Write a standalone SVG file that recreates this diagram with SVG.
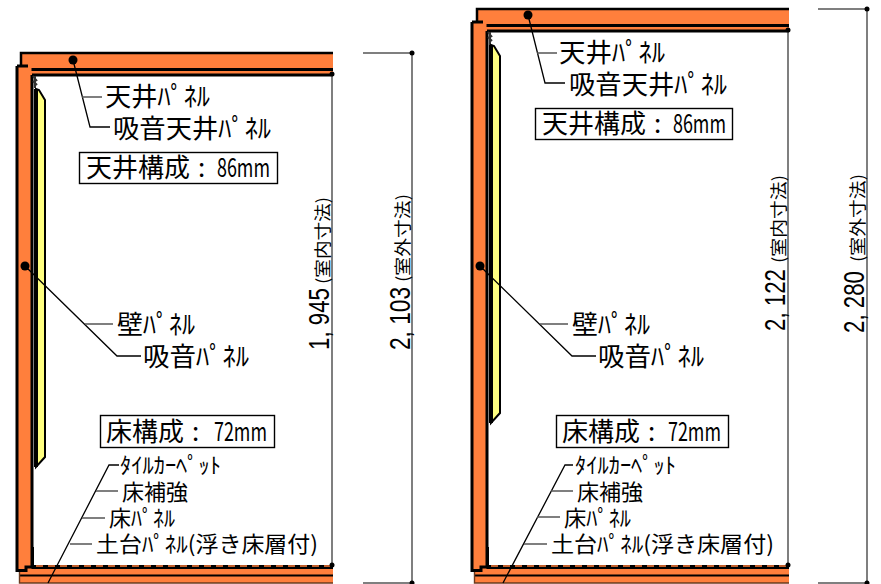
<svg xmlns="http://www.w3.org/2000/svg" width="881" height="584" viewBox="0 0 881 584">
<style>
text{font-family:"Noto Sans CJK JP","Liberation Sans",sans-serif;fill:#000}
.l{font-size:26px}
.s{font-size:22px}
.d{font-size:30px;font-family:"Liberation Sans","Noto Sans CJK JP",sans-serif}
.p{font-size:17px}
.o{fill:#ff7f3c}
.b{fill:none;stroke:#000;stroke-width:2.5}
.t{fill:none;stroke:#000;stroke-width:1.3}
.g{fill:none;stroke:#555;stroke-width:1.5}
.dash{fill:none;stroke:#ff7f3c;stroke-width:1.5;stroke-dasharray:7 5}
.box{fill:#fff;stroke:#000;stroke-width:1.4}
</style>
<rect width="881" height="584" fill="#fff"/>
<g id="unit-left">
<rect class="o" x="21" y="53" width="312" height="22"/>
<path class="b" d="M333 53H21V67"/>
<path d="M21 69.5H333M32 75H333" fill="none" stroke="#000" stroke-width="3"/>
<rect class="o" x="19" y="567" width="314" height="16"/>
<path d="M32 566H333" fill="none" stroke="#000" stroke-width="2"/>
<path class="dash" d="M36 566H333"/>
<path d="M26 568H333M20 575.500H333" fill="none" stroke="#000" stroke-width="2"/>
<path d="M19.500 571V583H333" fill="none" stroke="#6b3a1e" stroke-width="1.400"/>
<rect class="o" x="17" y="66" width="14.500" height="504"/>
<path d="M32 76V78M17 66H28M17 66V570.500H26V567H32V75" fill="none" stroke="#000" stroke-width="3"/>
<path d="M33 547V565" fill="none" stroke="#000" stroke-width="2"/>
<path d="M33 76L37 81M33 81L37 85M35 76V88" fill="none" stroke="#333" stroke-width="2"/>
<path d="M36 89V467L45 457V100L39 90Z" fill="#ffff80" stroke="#000" stroke-width="2"/>
<path d="M36 89V467" fill="none" stroke="#000" stroke-width="4"/>
</g>
<g id="unit-right">
<rect class="o" x="477" y="9" width="312" height="22"/>
<path class="b" d="M789 9H477V23"/>
<path d="M477 25.500H789M487 31H789" fill="none" stroke="#000" stroke-width="3"/>
<rect class="o" x="474" y="567" width="315" height="16"/>
<path d="M487 566H789" fill="none" stroke="#000" stroke-width="2"/>
<path class="dash" d="M491 566H789"/>
<path d="M481 568H789M475 575.500H789" fill="none" stroke="#000" stroke-width="2"/>
<path d="M474.500 571V583H789" fill="none" stroke="#6b3a1e" stroke-width="1.400"/>
<rect class="o" x="472" y="22" width="14.500" height="548"/>
<path d="M472 22H483M472 22V570.500H481V567H487V31" fill="none" stroke="#000" stroke-width="3"/>
<path d="M488 547V565" fill="none" stroke="#000" stroke-width="2"/>
<path d="M488 32L492 37M488 37L492 41M490 32V45" fill="none" stroke="#333" stroke-width="2"/>
<path d="M491 45V423L500 413V56L494 46Z" fill="#ffff80" stroke="#000" stroke-width="2"/>
<path d="M491 45V423" fill="none" stroke="#000" stroke-width="4"/>
</g>
<g id="connectors">
<path class="t" d="M73 60L90 127H110M25 266L117 356H141M48 583L109 465H119"/>
<path class="g" d="M82 97H102M85 324H113M96 491H118M82 518H105M70 544H92"/>
<path class="t" d="M528 15L545 83H565M480 266L572 356H596M503 583L565 465H573"/>
<path class="g" d="M537 53H557M540 324H568M551 491H573M537 517H560M524 544H547"/>
<path class="g" d="M332 75V565M412 53V583M363 53H412M363 583H412M788 31V565M867 9V583M818 9H867M818 583H867"/>
<g fill="#000">
<circle cx="73" cy="60" r="4.500"/><circle cx="25" cy="266" r="4.500"/>
<circle cx="528" cy="15" r="4.500"/><circle cx="480" cy="266" r="4.500"/>
<circle cx="332" cy="74" r="2.500"/><circle cx="332" cy="565" r="2.500"/>
<circle cx="412" cy="53" r="2.500"/><circle cx="412" cy="583" r="2.500"/>
<circle cx="788" cy="30" r="2.500"/><circle cx="788" cy="565" r="2.500"/>
<circle cx="867" cy="9" r="2.500"/><circle cx="867" cy="583" r="2.500"/>
</g>
</g>
<g id="label-left">
<text class="l" x="105" y="106" textLength="105" lengthAdjust="spacingAndGlyphs">天井ﾊﾟﾈﾙ</text>
<text class="l" x="113" y="138" textLength="158" lengthAdjust="spacingAndGlyphs">吸音天井ﾊﾟﾈﾙ</text>
<rect class="box" x="79.500" y="152.500" width="198" height="31"/>
<text class="l" x="86" y="177">天井構成<tspan x="198">:</tspan><tspan x="217" textLength="53" lengthAdjust="spacingAndGlyphs">86mm</tspan></text>
<text class="l" x="117" y="334" textLength="78" lengthAdjust="spacingAndGlyphs">壁ﾊﾟﾈﾙ</text>
<text class="l" x="143" y="366" textLength="106" lengthAdjust="spacingAndGlyphs">吸音ﾊﾟﾈﾙ</text>
<rect class="box" x="100.500" y="415.500" width="174" height="32"/>
<text class="l" x="106" y="441">床構成<tspan x="192">:</tspan><tspan x="214" textLength="53" lengthAdjust="spacingAndGlyphs">72mm</tspan></text>
<text class="s" x="120" y="473" textLength="101" lengthAdjust="spacingAndGlyphs">ﾀｲﾙｶｰﾍﾟｯﾄ</text>
<text class="s" x="122" y="500" textLength="66" lengthAdjust="spacingAndGlyphs">床補強</text>
<text class="s" x="109" y="526" textLength="66" lengthAdjust="spacingAndGlyphs">床ﾊﾟﾈﾙ</text>
<text class="s" x="96" y="552" textLength="222" lengthAdjust="spacingAndGlyphs">土台ﾊﾟﾈﾙ(浮き床層付)</text>
<text class="d" transform="translate(329 350) rotate(-90)" textLength="62" lengthAdjust="spacingAndGlyphs">1, 945</text>
<text class="p" transform="translate(329 284) rotate(-90)" textLength="87" lengthAdjust="spacingAndGlyphs">(室内寸法)</text>
<text class="d" transform="translate(410 350) rotate(-90)" textLength="63" lengthAdjust="spacingAndGlyphs">2, 103</text>
<text class="p" transform="translate(409 282) rotate(-90)" textLength="88" lengthAdjust="spacingAndGlyphs">(室外寸法)</text>
</g>
<g id="label-right">
<text class="l" x="559" y="62" textLength="106" lengthAdjust="spacingAndGlyphs">天井ﾊﾟﾈﾙ</text>
<text class="l" x="569" y="94" textLength="158" lengthAdjust="spacingAndGlyphs">吸音天井ﾊﾟﾈﾙ</text>
<rect class="box" x="535.500" y="108.500" width="197" height="31"/>
<text class="l" x="542" y="133">天井構成<tspan x="654">:</tspan><tspan x="673" textLength="53" lengthAdjust="spacingAndGlyphs">86mm</tspan></text>
<text class="l" x="572" y="334" textLength="78" lengthAdjust="spacingAndGlyphs">壁ﾊﾟﾈﾙ</text>
<text class="l" x="598" y="366" textLength="106" lengthAdjust="spacingAndGlyphs">吸音ﾊﾟﾈﾙ</text>
<rect class="box" x="556.500" y="415.500" width="172" height="32"/>
<text class="l" x="562" y="441">床構成<tspan x="648">:</tspan><tspan x="668" textLength="53" lengthAdjust="spacingAndGlyphs">72mm</tspan></text>
<text class="s" x="575" y="473" textLength="101" lengthAdjust="spacingAndGlyphs">ﾀｲﾙｶｰﾍﾟｯﾄ</text>
<text class="s" x="577" y="500" textLength="66" lengthAdjust="spacingAndGlyphs">床補強</text>
<text class="s" x="564" y="526" textLength="67" lengthAdjust="spacingAndGlyphs">床ﾊﾟﾈﾙ</text>
<text class="s" x="551" y="552" textLength="223" lengthAdjust="spacingAndGlyphs">土台ﾊﾟﾈﾙ(浮き床層付)</text>
<text class="d" transform="translate(785 331) rotate(-90)" textLength="62" lengthAdjust="spacingAndGlyphs">2, 122</text>
<text class="p" transform="translate(785 263) rotate(-90)" textLength="88" lengthAdjust="spacingAndGlyphs">(室内寸法)</text>
<text class="d" transform="translate(864 333) rotate(-90)" textLength="62" lengthAdjust="spacingAndGlyphs">2, 280</text>
<text class="p" transform="translate(864 262) rotate(-90)" textLength="88" lengthAdjust="spacingAndGlyphs">(室外寸法)</text>
</g>
</svg>
